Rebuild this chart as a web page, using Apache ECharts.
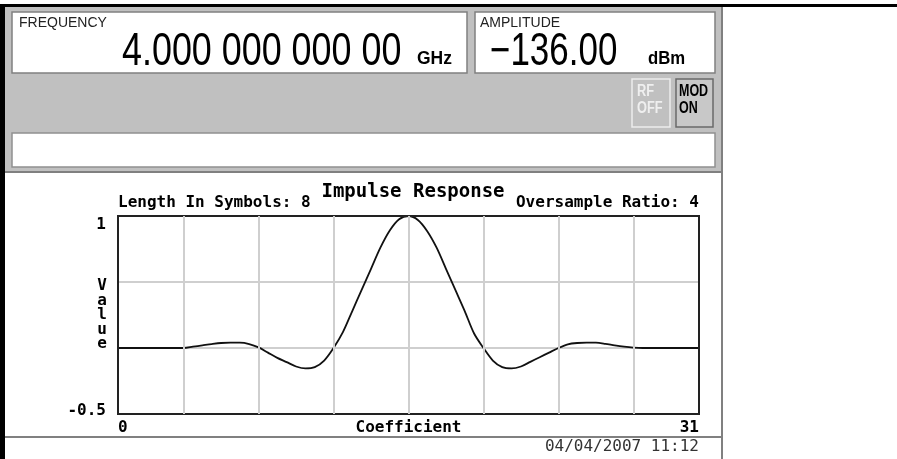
<!DOCTYPE html>
<html>
<head>
<meta charset="utf-8">
<script src="https://cdn.jsdelivr.net/npm/echarts@6/dist/echarts.min.js"></script>
<style>
  html, body { margin: 0; padding: 0; background: #fff; }
  #chart { width: 897px; height: 459px; }
</style>
</head>
<body>
<div id="chart"></div>
<script>
// Instrument status readouts
const frequencyLabel = 'FREQUENCY';
const frequencyText = '4.000 000 000 00';
const frequencyUnit = 'GHz';
const amplitudeLabel = 'AMPLITUDE';
const amplitudeText = '\u2212136.00';
const amplitudeUnit = 'dBm';
const rfButtonLines = ['RF', 'OFF'];
const modButtonLines = ['MOD', 'ON'];

// Filter plot texts
const chartTitle = 'Impulse Response';
const lengthLabel = 'Length In Symbols: 8';
const ratioLabel = 'Oversample Ratio: 4';
const xAxisName = 'Coefficient';
const yAxisName = 'Value';
const timestamp = '04/04/2007 11:12';

// Axis ranges and labelled ticks
const xRange = [0, 31];
const yRange = [-0.5, 1];
const yTickStep = 0.5;
const yLabelled = [-0.5, 1];

// Symbol boundaries (4 coefficients per symbol) shown as vertical grid lines
const symbolBoundaries = [3.5, 7.5, 11.5, 15.5, 19.5, 23.5, 27.5];

// Impulse response, sampled every half coefficient
const coefficientPos = [
  0, 0.5, 1, 1.5, 2, 2.5, 3, 3.5, 4, 4.5, 5, 5.5, 6, 6.5, 7, 7.5,
  8, 8.5, 9, 9.5, 10, 10.5, 11, 11.5, 12, 12.5, 13, 13.5, 14, 14.5, 15, 15.5,
  16, 16.5, 17, 17.5, 18, 18.5, 19, 19.5, 20, 20.5, 21, 21.5, 22, 22.5, 23, 23.5,
  24, 24.5, 25, 25.5, 26, 26.5, 27, 27.5, 28, 28.5, 29, 29.5, 30, 30.5, 31
];
const responseValues = [
  0, 0, 0, 0, 0, 0, 0, 0, 0.01, 0.02, 0.03, 0.038, 0.04, 0.04, 0.03, 0.005,
  -0.035, -0.075, -0.107, -0.14, -0.155, -0.145, -0.095, 0, 0.12, 0.28, 0.44, 0.6, 0.76, 0.89, 0.975, 1.0,
  0.97, 0.885, 0.76, 0.6, 0.44, 0.28, 0.11, 0, -0.095, -0.145, -0.155, -0.14, -0.105, -0.07, -0.035, 0,
  0.028, 0.038, 0.04, 0.04, 0.032, 0.02, 0.01, 0.003, 0, 0, 0, 0, 0, 0, 0
];

const GRID = { left: 118, top: 216, right: 198, bottom: 45 };
const PANEL_GRAY = '#c0c0c0';
const EDGE_GRAY = '#808080';
const GRID_GRAY = '#cfcfcf';
const MONO = '"DejaVu Sans Mono", monospace';
const SANS = '"Liberation Sans", Arial, sans-serif';

const chart = echarts.init(document.getElementById('chart'), null, { renderer: 'canvas' });

function rect(x, y, w, h, style, z) {
  return { type: 'rect', shape: { x, y, width: w, height: h }, style, z: z || 0, silent: true };
}
function label(x, y, str, font, fill, opts) {
  const o = opts || {};
  return {
    type: 'text', x, y, silent: true, z: 5, scaleX: o.scaleX || 1,
    style: {
      text: str, font, fill,
      textAlign: o.align || 'left', textVerticalAlign: 'top',
      lineHeight: o.lineHeight
    }
  };
}

const graphics = [
  // frame
  rect(0, 4, 897, 3, { fill: '#000' }, 1),
  rect(0, 4, 5, 455, { fill: '#000' }, 1),
  rect(5, 7, 717, 165, { fill: PANEL_GRAY }, 0),
  rect(5, 171, 717, 2, { fill: EDGE_GRAY }, 1),
  rect(721, 7, 2, 452, { fill: EDGE_GRAY }, 1),
  rect(5, 436, 717, 2, { fill: EDGE_GRAY }, 1),
  // readout boxes
  rect(12, 12, 455, 61, { fill: '#fff', stroke: EDGE_GRAY, lineWidth: 1.5 }, 1),
  rect(475, 12, 240, 61, { fill: '#fff', stroke: EDGE_GRAY, lineWidth: 1.5 }, 1),
  rect(12, 133, 703, 34, { fill: '#fff', stroke: '#909090', lineWidth: 1.5 }, 1),
  // softkeys
  rect(632, 79, 38, 48, { fill: PANEL_GRAY, stroke: '#ececec', lineWidth: 1.5 }, 1),
  rect(676, 79, 37, 48, { fill: '#c8c8c8', stroke: '#6a6a6a', lineWidth: 1.5 }, 1),

  // readout texts
  label(19, 16, frequencyLabel, '14px ' + SANS, '#222'),
  label(122, 29, frequencyText, '46px ' + SANS, '#000', { scaleX: 0.78 }),
  label(417, 49, frequencyUnit, 'bold 19px ' + SANS, '#000', { scaleX: 0.92 }),
  label(480, 16, amplitudeLabel, '14px ' + SANS, '#222'),
  label(490, 29, amplitudeText, '46px ' + SANS, '#000', { scaleX: 0.76 }),
  label(648, 49, amplitudeUnit, 'bold 19px ' + SANS, '#000', { scaleX: 0.88 }),
  label(637, 83, rfButtonLines.join('\n'), 'bold 16px ' + SANS, '#efefef', { scaleX: 0.8, lineHeight: 17 }),
  label(679, 83, modButtonLines.join('\n'), 'bold 16px ' + SANS, '#000', { scaleX: 0.78, lineHeight: 17 }),

  // plot captions
  label(118, 195, lengthLabel, 'bold 16px ' + MONO, '#000'),
  label(699, 195, ratioLabel, 'bold 16px ' + MONO, '#000', { align: 'right' }),
  label(699, 439, timestamp, '16px ' + MONO, '#333', { align: 'right' })
];

const option = {
  animation: false,
  backgroundColor: '#fff',
  title: {
    text: chartTitle,
    left: 408, top: 178,
    textAlign: 'center',
    textStyle: { fontFamily: MONO, fontWeight: 'bold', fontSize: 19, color: '#000' }
  },
  grid: {
    left: GRID.left, top: GRID.top, right: GRID.right, bottom: GRID.bottom,
    show: true, borderColor: '#222', borderWidth: 2, backgroundColor: 'transparent', z: 4
  },
  xAxis: {
    type: 'value',
    min: xRange[0], max: xRange[1], interval: xRange[1],
    name: xAxisName, nameLocation: 'middle', nameGap: 6, nameMoveOverlap: false,
    nameTextStyle: { fontFamily: MONO, fontWeight: 'bold', fontSize: 16, color: '#000', verticalAlign: 'top' },
    axisLine: { show: false }, axisTick: { show: false },
    splitLine: { show: false },
    axisLabel: {
      margin: 6, fontFamily: MONO, fontWeight: 'bold', fontSize: 16, color: '#000',
      alignMinLabel: 'left', alignMaxLabel: 'right',
      formatter: v => (v === xRange[0] || v === xRange[1]) ? String(v) : ''
    }
  },
  yAxis: {
    type: 'value',
    min: yRange[0], max: yRange[1], interval: yTickStep,
    name: yAxisName.split('').join('\n'), nameLocation: 'middle', nameRotate: 0, nameGap: 11,
    nameMoveOverlap: false,
    nameTextStyle: { fontFamily: MONO, fontWeight: 'bold', fontSize: 16, lineHeight: 14.5, color: '#000', align: 'right' },
    axisLine: { show: false }, axisTick: { show: false },
    splitLine: { show: true, lineStyle: { color: GRID_GRAY, width: 2 } },
    axisLabel: {
      margin: 12, fontFamily: MONO, fontWeight: 'bold', fontSize: 16, color: '#000',
      formatter: v => {
        if (!yLabelled.includes(v)) return '';
        return v === yRange[1] ? '{top|' + v + '}' : '{bot|' + v + '}';
      },
      rich: {
        top: { fontFamily: MONO, fontWeight: 'bold', fontSize: 16, color: '#000', padding: [18, 0, 0, 0] },
        bot: { fontFamily: MONO, fontWeight: 'bold', fontSize: 16, color: '#000', padding: [0, 0, 6, 0] }
      }
    }
  },
  graphic: graphics,
  series: [
    {
      // vertical grid lines at symbol boundaries
      type: 'line', data: [], z: 1, silent: true,
      markLine: {
        silent: true, symbol: ['none', 'none'], label: { show: false },
        lineStyle: { color: GRID_GRAY, width: 2, type: 'solid' },
        data: symbolBoundaries.map(x => ({ xAxis: x }))
      }
    },
    {
      type: 'line', z: 3,
      data: coefficientPos.map((c, i) => [c, responseValues[i]]),
      showSymbol: false, smooth: 0.3,
      lineStyle: { color: '#111', width: 1.8 }
    }
  ]
};

chart.setOption(option);
</script>
</body>
</html>
